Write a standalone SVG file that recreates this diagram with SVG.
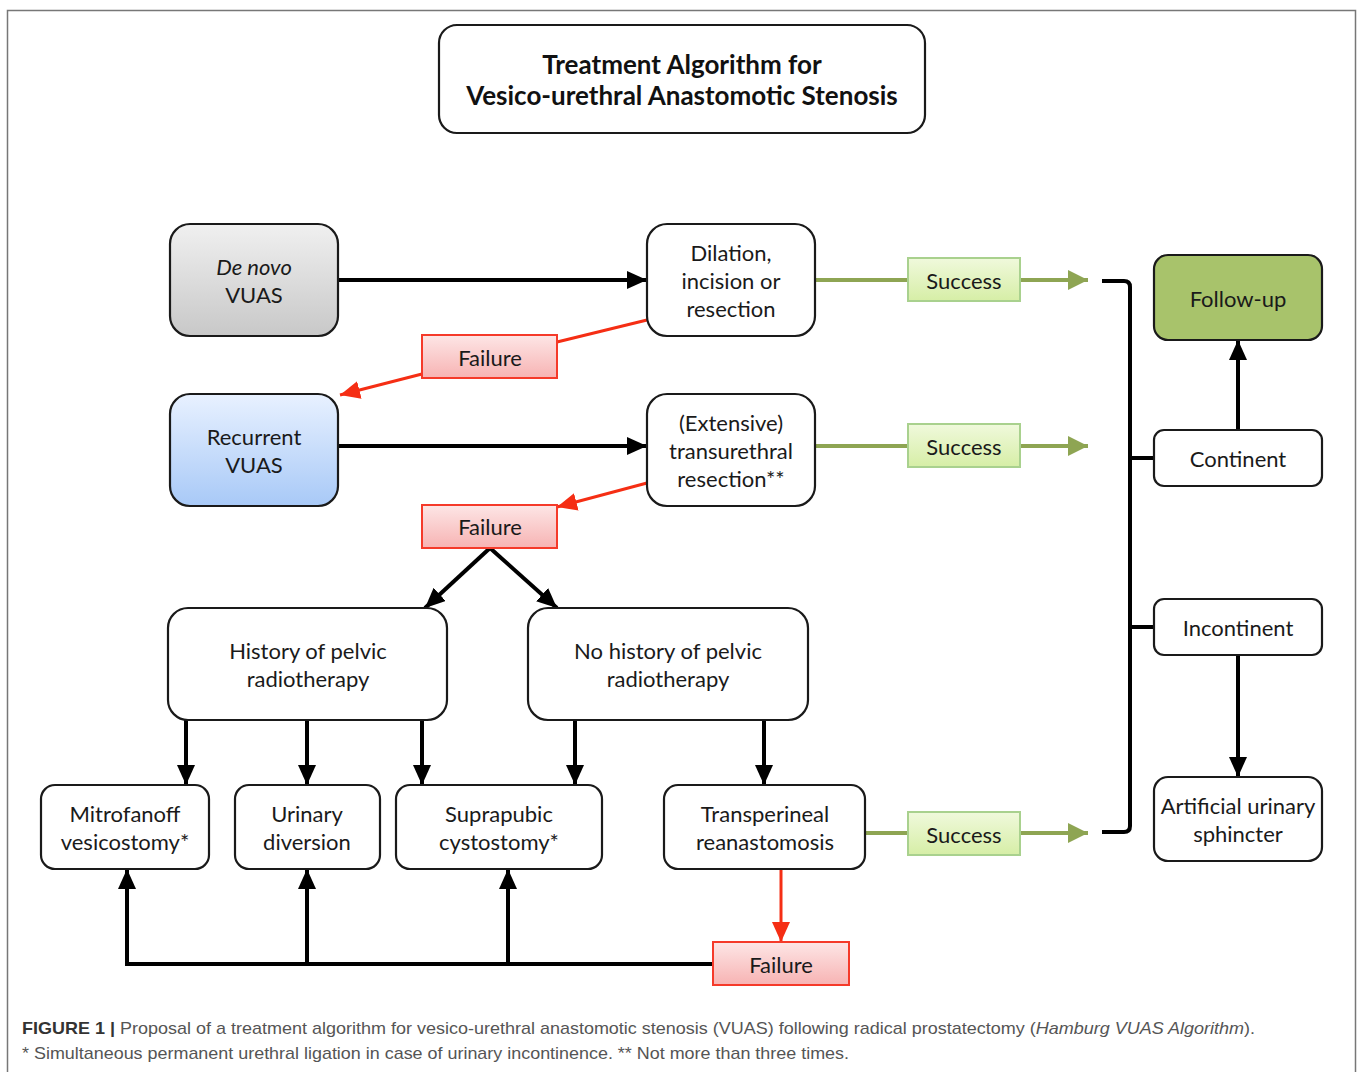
<svg xmlns="http://www.w3.org/2000/svg" width="1360" height="1072" viewBox="0 0 1360 1072">
<style>
.node{stroke:#1a1a1a;stroke-width:2.2;fill:#fff}
.t{font-family:Lato,"Open Sans","Liberation Sans",sans-serif;font-size:22px;fill:#1a1a1a;text-anchor:middle}
.title{font-family:Lato,"Open Sans","Liberation Sans",sans-serif;font-size:26px;font-weight:bold;fill:#111;text-anchor:middle}
.fail{fill:url(#gFail);stroke:#f53a2a;stroke-width:2}
.succ{fill:url(#gSucc);stroke:#a9d18e;stroke-width:2}
.blk{stroke:#000;stroke-width:4;fill:none}
.grn{stroke:#8ea553;stroke-width:4;fill:none}
.red{stroke:#f52e14;stroke-width:3;fill:none}
.cap{font-family:"Liberation Sans",Arial,sans-serif;font-size:17px;fill:#555}
</style>
<defs>
<linearGradient id="gGray" x1="0" y1="0" x2="0" y2="1"><stop offset="0" stop-color="#f0f0f0"/><stop offset="1" stop-color="#c8c8c8"/></linearGradient>
<linearGradient id="gBlue" x1="0" y1="0" x2="0" y2="1"><stop offset="0" stop-color="#e8f1ff"/><stop offset="1" stop-color="#a8c9f7"/></linearGradient>
<linearGradient id="gFail" x1="0" y1="0" x2="0" y2="1"><stop offset="0" stop-color="#fde6e6"/><stop offset="1" stop-color="#f7b3b3"/></linearGradient>
<linearGradient id="gSucc" x1="0" y1="0" x2="0" y2="1"><stop offset="0" stop-color="#f0f9dc"/><stop offset="1" stop-color="#d6eea6"/></linearGradient>
<marker id="aBlk" markerUnits="userSpaceOnUse" markerWidth="22" markerHeight="18" refX="20" refY="9" orient="auto"><path d="M0,0 L20,9 L0,18 z" fill="#000"/></marker>
<marker id="aGrn" markerUnits="userSpaceOnUse" markerWidth="22" markerHeight="22" refX="20" refY="10" orient="auto"><path d="M0,0 L20,10 L0,20 z" fill="#8ea553"/></marker>
<marker id="aRed" markerUnits="userSpaceOnUse" markerWidth="22" markerHeight="20" refX="20" refY="9" orient="auto"><path d="M0,0 L20,9 L0,18 z" fill="#f52e14"/></marker>
</defs>
<rect x="0" y="0" width="1360" height="1072" fill="#fff"/>
<rect x="7.5" y="10.5" width="1348" height="1080" fill="none" stroke="#777" stroke-width="1.5"/>

<g id="connectors">
<line class="blk" x1="338" y1="280" x2="647" y2="280" marker-end="url(#aBlk)"/>
<line class="blk" x1="338" y1="446" x2="647" y2="446" marker-end="url(#aBlk)"/>
<line class="grn" x1="815" y1="280" x2="908" y2="280"/>
<line class="grn" x1="1020" y1="280" x2="1088" y2="280" marker-end="url(#aGrn)"/>
<line class="grn" x1="815" y1="446" x2="908" y2="446"/>
<line class="grn" x1="1020" y1="446" x2="1088" y2="446" marker-end="url(#aGrn)"/>
<line class="grn" x1="865" y1="833" x2="908" y2="833"/>
<line class="grn" x1="1020" y1="833" x2="1088" y2="833" marker-end="url(#aGrn)"/>
<path class="blk" d="M1102,281 L1124,281 Q1130,281 1130,287 L1130,826 Q1130,832 1124,832 L1102,832"/>
<line class="blk" x1="1130" y1="458" x2="1154" y2="458"/>
<line class="blk" x1="1130" y1="627" x2="1154" y2="627"/>
<line class="blk" x1="1238" y1="430" x2="1238" y2="340" marker-end="url(#aBlk)"/>
<line class="blk" x1="1238" y1="655" x2="1238" y2="777" marker-end="url(#aBlk)"/>
<line class="red" x1="647" y1="320" x2="557" y2="342"/>
<line class="red" x1="422" y1="374" x2="340" y2="395" marker-end="url(#aRed)"/>
<line class="red" x1="647" y1="483" x2="557" y2="507" marker-end="url(#aRed)"/>
<line class="blk" x1="490" y1="548" x2="425" y2="608" marker-end="url(#aBlk)"/>
<line class="blk" x1="490" y1="548" x2="557" y2="608" marker-end="url(#aBlk)"/>
<line class="blk" x1="186" y1="720" x2="186" y2="785" marker-end="url(#aBlk)"/>
<line class="blk" x1="307" y1="720" x2="307" y2="785" marker-end="url(#aBlk)"/>
<line class="blk" x1="422" y1="720" x2="422" y2="785" marker-end="url(#aBlk)"/>
<line class="blk" x1="575" y1="720" x2="575" y2="785" marker-end="url(#aBlk)"/>
<line class="blk" x1="764" y1="720" x2="764" y2="785" marker-end="url(#aBlk)"/>
<line class="red" x1="781" y1="869" x2="781" y2="942" marker-end="url(#aRed)"/>
<path class="blk" d="M713,964 L127,964 L127,869" marker-end="url(#aBlk)"/>
<line class="blk" x1="307" y1="964" x2="307" y2="869" marker-end="url(#aBlk)"/>
<line class="blk" x1="508" y1="964" x2="508" y2="869" marker-end="url(#aBlk)"/>
</g>

<g id="title"><rect class="node" x="439" y="25" width="486" height="108" rx="18"/>
<text class="title" x="682" y="74">Treatment Algorithm for</text>
<text class="title" x="682" y="105">Vesico-urethral Anastomotic Stenosis</text></g>

<g id="denovo"><rect class="node" x="170" y="224" width="168" height="112" rx="20" style="fill:url(#gGray)"/>
<text class="t" x="254" y="275" font-style="italic">De novo</text><text class="t" x="254" y="303">VUAS</text></g>

<g id="dilation"><rect class="node" x="647" y="224" width="168" height="112" rx="20"/>
<text class="t" x="731" y="261">Dilation,</text><text class="t" x="731" y="289">incision or</text><text class="t" x="731" y="317">resection</text></g>

<g id="recurrent"><rect class="node" x="170" y="394" width="168" height="112" rx="20" style="fill:url(#gBlue)"/>
<text class="t" x="254" y="445">Recurrent</text><text class="t" x="254" y="473">VUAS</text></g>

<g id="extensive"><rect class="node" x="647" y="394" width="168" height="112" rx="20"/>
<text class="t" x="731" y="431">(Extensive)</text><text class="t" x="731" y="459">transurethral</text><text class="t" x="731" y="487">resection**</text></g>

<g id="failure1"><rect class="fail" x="422" y="335" width="135" height="43"/><text class="t" x="490" y="366">Failure</text></g>
<g id="failure2"><rect class="fail" x="422" y="505" width="135" height="43"/><text class="t" x="490" y="535">Failure</text></g>
<g id="failure3"><rect class="fail" x="713" y="942" width="136" height="43"/><text class="t" x="781" y="973">Failure</text></g>

<g id="success1"><rect class="succ" x="908" y="258" width="112" height="43"/><text class="t" x="964" y="289">Success</text></g>
<g id="success2"><rect class="succ" x="908" y="424" width="112" height="43"/><text class="t" x="964" y="455">Success</text></g>
<g id="success3"><rect class="succ" x="908" y="812" width="112" height="43"/><text class="t" x="964" y="843">Success</text></g>

<g id="followup"><rect class="node" x="1154" y="255" width="168" height="85" rx="14" style="fill:#a8c36b"/>
<text class="t" x="1238" y="307">Follow-up</text></g>
<g id="continent"><rect class="node" x="1154" y="430" width="168" height="56" rx="10"/>
<text class="t" x="1238" y="467">Continent</text></g>
<g id="incontinent"><rect class="node" x="1154" y="599" width="168" height="56" rx="10"/>
<text class="t" x="1238" y="636">Incontinent</text></g>
<g id="sphincter"><rect class="node" x="1154" y="777" width="168" height="84" rx="14"/>
<text class="t" x="1238" y="814">Artificial urinary</text><text class="t" x="1238" y="842">sphincter</text></g>

<g id="history"><rect class="node" x="168" y="608" width="279" height="112" rx="20"/>
<text class="t" x="308" y="659">History of pelvic</text><text class="t" x="308" y="687">radiotherapy</text></g>
<g id="nohistory"><rect class="node" x="528" y="608" width="280" height="112" rx="20"/>
<text class="t" x="668" y="659">No history of pelvic</text><text class="t" x="668" y="687">radiotherapy</text></g>

<g id="mitrofanoff"><rect class="node" x="41" y="785" width="168" height="84" rx="14"/>
<text class="t" x="125" y="822">Mitrofanoff</text><text class="t" x="125" y="850">vesicostomy*</text></g>
<g id="diversion"><rect class="node" x="235" y="785" width="145" height="84" rx="14"/>
<text class="t" x="307" y="822">Urinary</text><text class="t" x="307" y="850">diversion</text></g>
<g id="suprapubic"><rect class="node" x="396" y="785" width="206" height="84" rx="14"/>
<text class="t" x="499" y="822">Suprapubic</text><text class="t" x="499" y="850">cystostomy*</text></g>
<g id="transperineal"><rect class="node" x="664" y="785" width="201" height="84" rx="14"/>
<text class="t" x="765" y="822">Transperineal</text><text class="t" x="765" y="850">reanastomosis</text></g>

<g id="caption">
<text class="cap" x="22" y="1034" textLength="1233" lengthAdjust="spacingAndGlyphs"><tspan font-weight="bold" fill="#333">FIGURE 1 |</tspan> Proposal of a treatment algorithm for vesico-urethral anastomotic stenosis (VUAS) following radical prostatectomy (<tspan font-style="italic">Hamburg VUAS Algorithm</tspan>).</text>
<text class="cap" x="22" y="1059" textLength="827" lengthAdjust="spacingAndGlyphs">* Simultaneous permanent urethral ligation in case of urinary incontinence. ** Not more than three times.</text>
</g>
</svg>
